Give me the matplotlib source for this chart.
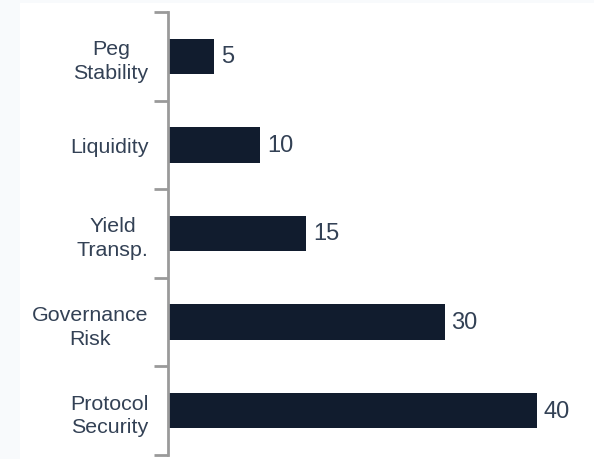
import matplotlib
matplotlib.use('Agg')
import matplotlib.pyplot as plt
from matplotlib.patches import Rectangle
import numpy as np

# data
categories = ['Peg\nStability', 'Liquidity', 'Yield\nTransp.', 'Governance\nRisk', 'Protocol\nSecurity']
values = [5, 10, 15, 30, 40]

bar_color = '#111c2e'
text_color = '#334155'
spine_color = '#9a9a9a'

plt.rcParams['font.family'] = ['Liberation Sans', 'DejaVu Sans']

fig = plt.figure(figsize=(5.94, 4.60), dpi=100)
fig.patch.set_facecolor('#f8fafc')
# white panel behind the chart
fig.patches.append(Rectangle((20 / 594, 0), 1 - 20 / 594, 456 / 460,
                             transform=fig.transFigure, facecolor='white',
                             edgecolor='none', zorder=-10))

ax = fig.add_axes([168 / 594, 4 / 460, (594 - 168) / 594, 443 / 460])
ax.set_facecolor('none')

y = np.arange(len(categories))
ax.barh(y, values, height=0.4, color=bar_color)

for yi, v in zip(y, values):
    ax.text(v + 0.75, yi, str(v), va='center', ha='left', fontsize=17, color=text_color)

ax.set_ylim(len(categories) - 0.5, -0.5)
ax.set_xlim(0, 46.2)

# ticks at category boundaries, labels at centres
ax.set_yticks(np.arange(len(categories) + 1) - 0.5)
ax.set_yticklabels([])
ax.tick_params(axis='y', which='major', length=10, width=2, color=spine_color)
ax.set_yticks(y, minor=True)
ax.set_yticklabels(categories, minor=True)
ax.tick_params(axis='y', which='minor', length=0, pad=14, labelsize=15.4, labelcolor=text_color)
for lbl in ax.get_yticklabels(minor=True):
    lbl.set_multialignment('center')
    lbl.set_linespacing(1.3)

ax.set_xticks([])
for s in ['top', 'right', 'bottom']:
    ax.spines[s].set_visible(False)
ax.spines['left'].set_color(spine_color)
ax.spines['left'].set_linewidth(2)

fig.savefig('out.png', dpi=100, facecolor=fig.get_facecolor())
